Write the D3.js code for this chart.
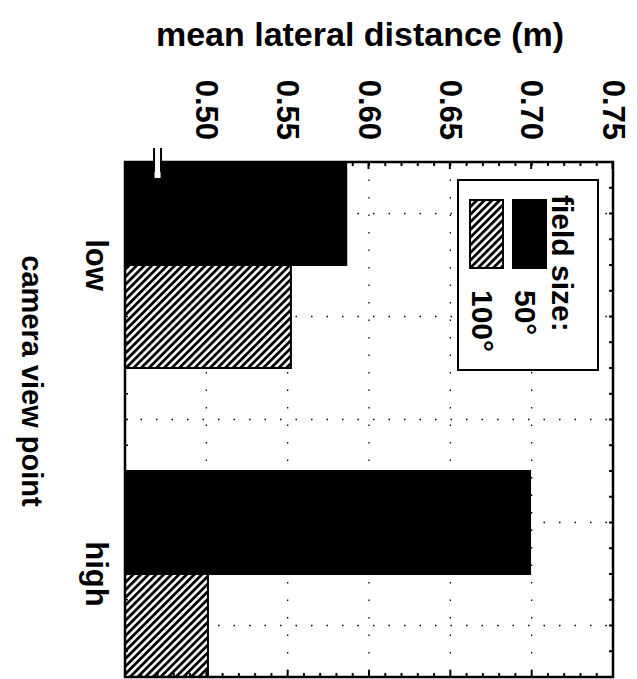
<!DOCTYPE html>
<html>
<head>
<meta charset="utf-8">
<script src="https://cdn.jsdelivr.net/npm/d3@7"></script>
<style>
body { margin: 0; background: #fff; }
svg text { font-family: "Liberation Sans", Arial, Helvetica, sans-serif; font-weight: bold; fill: #000; }
</style>
</head>
<body>
<script>
// chart data
var categories = ["low", "high"];
var fieldSizes = ["50°", "100°"];
var values50 = [0.586, 0.699];
var values100 = [0.552, 0.501];
var valueTicks = [0.50, 0.55, 0.60, 0.65, 0.70, 0.75];
var valueDomain = [0.45, 0.75];
var axisBreak = 0.47;
var edgeTickCount = 20;

drawChart();

function drawChart(){

    var width = 637,
        height = 679;

    var svg = d3.select("body")
        .append("svg")
        .attr("width", width)
        .attr("height", height);

    // hatch fill for the 100 deg bars
    var defs = svg.append("defs");
    var hatch = defs.append("pattern")
        .attr("id", "hatch")
        .attr("patternUnits", "userSpaceOnUse")
        .attr("width", 5.4)
        .attr("height", 5.4)
        .attr("patternTransform", "rotate(-45)");
    hatch.append("rect").attr("width", 5.4).attr("height", 5.4).attr("fill", "#fff");
    hatch.append("rect").attr("width", 2.8).attr("height", 5.4).attr("fill", "#000");

    // title stays upright
    svg.append("text")
        .attr("x", 360)
        .attr("y", 46)
        .attr("text-anchor", "middle")
        .style("font-size", "34px")
        .text("mean lateral distance (m)");

    // the chart itself is drawn upright and then turned 90deg clockwise
    var g = svg.append("g")
        .attr("transform", "translate(" + width + ",0) rotate(90)");

    var x = d3.scaleBand()
        .domain(categories)
        .range([162, 677])
        .paddingInner(1/3);

    var x1 = d3.scaleBand()
        .domain(fieldSizes)
        .range([0, x.bandwidth()]);

    var y = d3.scaleLinear()
        .domain(valueDomain)
        .range([512, 24]);

    var edge = d3.scaleLinear()
        .domain([0, edgeTickCount])
        .range([162, 677]);

    //sparse dotted grid
    var gridX = [];
    categories.forEach(function(c){
        fieldSizes.forEach(function(f){
            gridX.push(x(c) + x1(f) + x1.bandwidth() / 2);
        });
    });
    gridX.push((x(categories[0]) + x.bandwidth() + x(categories[1])) / 2);

    g.selectAll(".gridv")
        .data(gridX)
        .enter()
        .append("line")
        .attr("class", "gridv")
        .attr("x1", function(d){ return d; })
        .attr("x2", function(d){ return d; })
        .attr("y1", y(valueDomain[0]))
        .attr("y2", y(valueDomain[1]))
        .attr("stroke", "#000")
        .attr("stroke-width", 1.3)
        .attr("stroke-dasharray", "1.5,14");

    g.selectAll(".gridh")
        .data(valueTicks.slice(0, 5))
        .enter()
        .append("line")
        .attr("class", "gridh")
        .attr("x1", 162)
        .attr("x2", 677)
        .attr("y1", function(d){ return y(d); })
        .attr("y2", function(d){ return y(d); })
        .attr("stroke", "#000")
        .attr("stroke-width", 1.3)
        .attr("stroke-dasharray", "1.5,16");

    // bars
    var rows = categories.map(function(c, i){
        return [
            {cat: c, size: fieldSizes[0], value: values50[i]},
            {cat: c, size: fieldSizes[1], value: values100[i]}
        ];
    });
    var barData = [].concat.apply([], rows);

    g.selectAll(".bar")
        .data(barData)
        .enter()
        .append("rect")
        .attr("class", "bar")
        .attr("x", function(d){ return x(d.cat) + x1(d.size); })
        .attr("width", x1.bandwidth())
        .attr("y", function(d){ return y(d.value); })
        .attr("height", function(d){ return y(valueDomain[0]) - y(d.value); })
        .attr("fill", function(d){ return d.size == fieldSizes[0] ? "#000" : "url(#hatch)"; })
        .attr("stroke", "#000")
        .attr("stroke-width", 2);

    // frame
    g.append("rect")
        .attr("x", 162)
        .attr("y", y(valueDomain[1]))
        .attr("width", 515)
        .attr("height", y(valueDomain[0]) - y(valueDomain[1]))
        .attr("fill", "none")
        .attr("stroke", "#000")
        .attr("stroke-width", 2.5);

    // value axis, inward ticks
    var yAxis = g.append("g")
        .attr("transform", "translate(162,0)")
        .call(d3.axisLeft(y)
            .tickValues(valueTicks)
            .tickSizeInner(-7)
            .tickSizeOuter(0)
            .tickPadding(22)
            .tickFormat(d3.format(".2f")));
    yAxis.select(".domain").remove();
    yAxis.selectAll("line").attr("stroke-width", 2);
    yAxis.selectAll("text").style("font-size", "31px").attr("font-family", null);

    var minor = y.ticks(30);
    g.selectAll(".minorTop")
        .data(minor)
        .enter()
        .append("line")
        .attr("x1", 162).attr("x2", 166)
        .attr("y1", function(d){ return y(d); })
        .attr("y2", function(d){ return y(d); })
        .attr("stroke", "#000").attr("stroke-width", 2);
    g.selectAll(".minorBottom")
        .data(minor)
        .enter()
        .append("line")
        .attr("x1", 677).attr("x2", function(d){ return valueTicks.indexOf(+d.toFixed(2)) >= 0 ? 670 : 673; })
        .attr("y1", function(d){ return y(d); })
        .attr("y2", function(d){ return y(d); })
        .attr("stroke", "#000").attr("stroke-width", 2);

    // ticks along the other two edges
    g.selectAll(".edgeTick")
        .data(edge.ticks(edgeTickCount))
        .enter()
        .append("line")
        .attr("x1", function(d){ return edge(d); })
        .attr("x2", function(d){ return edge(d); })
        .attr("y1", y(valueDomain[1]))
        .attr("y2", y(valueDomain[1]) + 4)
        .attr("stroke", "#000").attr("stroke-width", 2);
    g.selectAll(".edgeTickL")
        .data(edge.ticks(edgeTickCount))
        .enter()
        .append("line")
        .attr("x1", function(d){ return edge(d); })
        .attr("x2", function(d){ return edge(d); })
        .attr("y1", y(valueDomain[0]))
        .attr("y2", y(valueDomain[0]) - 3)
        .attr("stroke", "#000").attr("stroke-width", 1.5);

    // axis break mark
    var by = y(axisBreak);
    g.append("rect")
        .attr("x", 148).attr("width", 30)
        .attr("y", by - 3).attr("height", 6)
        .attr("fill", "#fff");
    g.selectAll(".brk")
        .data([-3.5, 3.5])
        .enter()
        .append("line")
        .attr("x1", 148).attr("x2", 172)
        .attr("y1", function(d){ return by + d; })
        .attr("y2", function(d){ return by + d; })
        .attr("stroke", "#000").attr("stroke-width", 2);

    // category labels
    g.selectAll(".cat")
        .data(categories)
        .enter()
        .append("text")
        .attr("x", function(d){ return x(d) + x.bandwidth() / 2; })
        .attr("y", 551)
        .attr("text-anchor", "middle")
        .style("font-size", "31px")
        .text(function(d){ return d; });

    g.append("text")
        .attr("x", 381)
        .attr("y", 615)
        .attr("text-anchor", "middle")
        .style("font-size", "29px")
        .text("camera view point");

    // legend
    var legend = g.append("g");
    legend.append("rect")
        .attr("x", 180).attr("y", 39)
        .attr("width", 190).attr("height", 140)
        .attr("fill", "#fff")
        .attr("stroke", "#000")
        .attr("stroke-width", 2);
    legend.append("text")
        .attr("x", 195).attr("y", 85)
        .style("font-size", "30px")
        .text("field size:");
    fieldSizes.forEach(function(f, i){
        legend.append("rect")
            .attr("x", 200).attr("y", 91 + i * 43)
            .attr("width", 68).attr("height", 33)
            .attr("fill", i == 0 ? "#000" : "url(#hatch)")
            .attr("stroke", "#000")
            .attr("stroke-width", 2);
        legend.append("text")
            .attr("x", 290).attr("y", 122 + i * 43)
            .style("font-size", "30px")
            .text(f);
    });
};
</script>
</body>
</html>
